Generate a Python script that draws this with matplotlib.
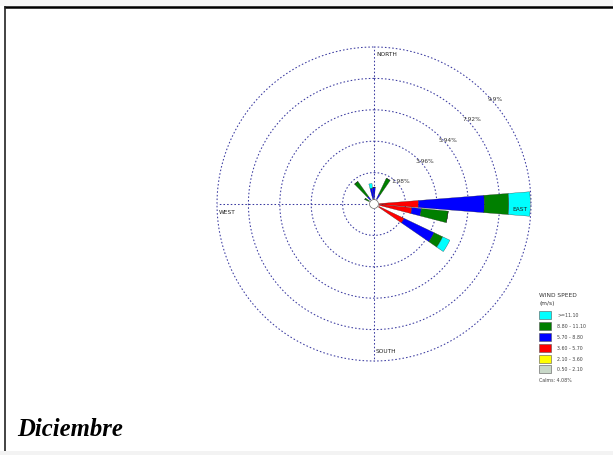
import numpy as np
import matplotlib
matplotlib.use("Agg")
import matplotlib.pyplot as plt
from matplotlib.patches import Rectangle

# ---- data ----
directions = [300, 320, 350, 0, 30, 90, 100, 120]          # compass bearing (deg)
speed_classes = ["0.50 - 2.10", "2.10 - 3.60", "3.60 - 5.70",
                 "5.70 - 8.80", "8.80 - 11.10", ">=11.10"]
class_colors = ["#c8d8c8", "#ffff00", "#ff0000", "#0000ff", "#007f00", "#00ffff"]
freq_050_210 = [0.0, 0.0, 0.0, 0.0, 0.0, 0.0, 0.0, 0.0]
freq_210_360 = [0.0, 0.0, 0.0, 0.0, 0.0, 0.0, 0.0, 0.0]
freq_360_570 = [0.0, 0.0, 0.0, 0.0, 0.0, 2.8, 2.4, 2.1]
freq_570_880 = [0.3, 0.6, 1.0, 1.05, 0.7, 4.15, 0.6, 2.1]
freq_880_1110 = [0.35, 1.15, 0.0, 0.0, 1.1, 1.55, 1.7, 0.6]
freq_ge_1110 = [0.0, 0.0, 0.3, 0.0, 0.0, 1.35, 0.0, 0.5]
ring_values = [1.98, 3.96, 5.94, 7.92, 9.9]
ring_labels = ["1.98%", "3.96%", "5.94%", "7.92%", "9.9%"]
calms_label = "Calms: 4.08%"
title = "Diciembre"

W, H = 613, 456
fig = plt.figure(figsize=(W / 100, H / 100), dpi=100)
fig.patch.set_facecolor("white")

# background / frame axes in pixel coords
bg = fig.add_axes([0, 0, 1, 1])
bg.set_xlim(0, W)
bg.set_ylim(H, 0)
bg.axis("off")
bg.add_patch(Rectangle((0, 0), W, 7, color="#f7f7f7", lw=0))
bg.add_patch(Rectangle((0, 452), W, 4, color="#f3f3f3", lw=0))
bg.plot([4, W], [7.5, 7.5], color="black", lw=1.8, solid_capstyle="butt")
bg.plot([4.5, 4.5], [7, 452], color="#222222", lw=1.2, solid_capstyle="butt")
bg.text(17, 430, title, fontsize=17.8, fontweight="bold", fontstyle="italic",
        family="Liberation Serif", va="center", ha="left", color="black")

# legend
lx = 539
bg.text(lx, 296, "WIND SPEED", fontsize=4.2, color="#333333", va="center")
bg.text(lx, 304, "(m/s)", fontsize=4.2, color="#333333", va="center")
rows_y = [316, 327, 338, 349, 359.5, 370]
for i, (lab, col) in enumerate(zip(speed_classes[::-1], class_colors[::-1])):
    y = rows_y[i]
    bg.add_patch(Rectangle((lx, y - 4), 12, 8, facecolor=col, edgecolor="#555555", lw=0.4))
    bg.text(lx + 18, y, lab, fontsize=3.4, color="#444444", va="center")
bg.text(lx, 381, calms_label, fontsize=3.4, color="#444444", va="center")

# polar rose
cx, cy, R = 374, 205, 157
rmax = ring_values[-1]
ax = fig.add_axes([(cx - R) / W, (H - cy - R) / H, 2 * R / W, 2 * R / H],
                  projection="polar")
ax.set_theta_zero_location("N")
ax.set_theta_direction(-1)
ax.set_ylim(0, rmax)
ax.axis("off")
ax.patch.set_alpha(0)

grid_col = "#3a3aa0"
th = np.linspace(0, 2 * np.pi, 400)
for rv in ring_values:
    ax.plot(th, np.full_like(th, rv), color=grid_col, lw=0.75, ls=(0, (1.5, 2)),
            clip_on=False)
for ang in [0, 90, 180, 270]:
    ax.plot([np.deg2rad(ang)] * 2, [0, rmax], color=grid_col, lw=0.75,
            ls=(0, (1.5, 2)), clip_on=False)

theta = np.deg2rad(directions)
width = np.deg2rad(9)
bottom = np.zeros(len(directions))
series = [freq_050_210, freq_210_360, freq_360_570, freq_570_880, freq_880_1110, freq_ge_1110]
for vals, col in zip(series, class_colors):
    v = np.array(vals)
    ax.bar(theta, v, width=width, bottom=bottom, color=col,
           edgecolor="#222222", linewidth=0.2, zorder=3, clip_on=False)
    bottom = bottom + v

# calm circle
ax.fill(th, np.full_like(th, 0.28), color="white", zorder=4)
ax.plot(th, np.full_like(th, 0.28), color="#666666", lw=0.5, zorder=4)

for rv, lab in zip(ring_values, ring_labels):
    ax.text(np.deg2rad(49), rv + 0.25, lab, fontsize=4.2, color="#333333",
            ha="center", va="center", zorder=5)

# direction labels (overlay, in pixel coords)
def ftext(x, y, s):
    fig.text(x / W, 1 - y / H, s, fontsize=4.2, color="#222222", va="center", ha="left")

ftext(376, 54, "NORTH")
ftext(376, 352, "SOUTH")
ftext(219, 213, "WEST")
ftext(512, 210, "EAST")

fig.savefig("out.png", dpi=100)
